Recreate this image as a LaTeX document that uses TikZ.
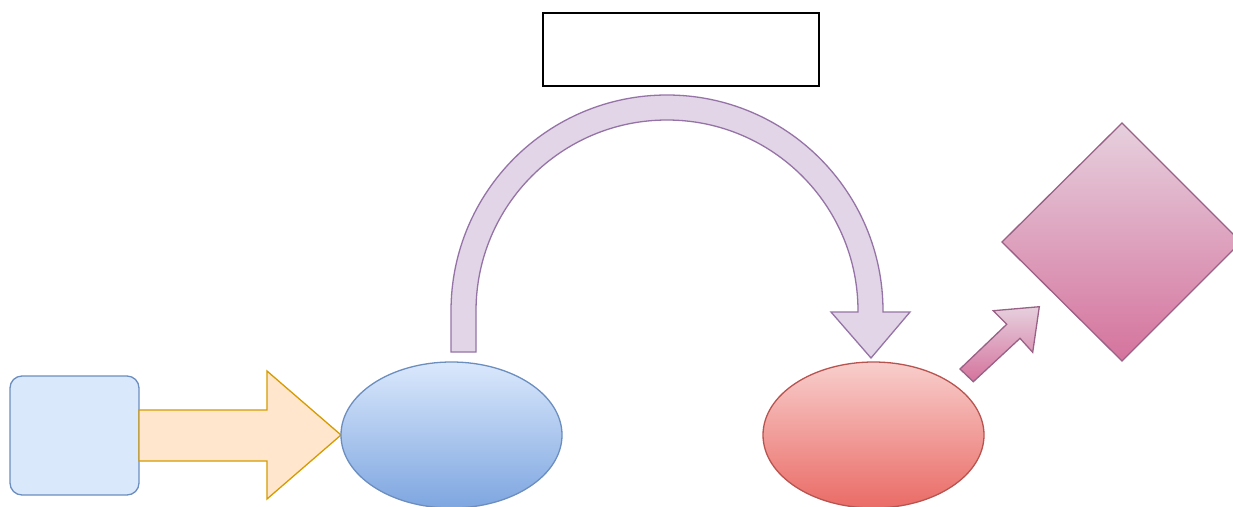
\documentclass[tikz,border=0pt]{standalone}
\usetikzlibrary{shapes.geometric}
\definecolor{bluefill}{HTML}{DAE8FC}
\definecolor{bluedark}{HTML}{7EA6E0}
\definecolor{bluestroke}{HTML}{6C8EBF}
\definecolor{orangefill}{HTML}{FFE6CC}
\definecolor{orangestroke}{HTML}{D79B00}
\definecolor{redtop}{HTML}{F8CECC}
\definecolor{redbot}{HTML}{EA6B66}
\definecolor{redstroke}{HTML}{B85450}
\definecolor{purplefill}{HTML}{E1D5E7}
\definecolor{purplestroke}{HTML}{9673A6}
\definecolor{pinktop}{HTML}{E6D0DE}
\definecolor{pinkbot}{HTML}{D5739D}
\definecolor{pinkstroke}{HTML}{996185}
\begin{document}
\begin{tikzpicture}[x=1pt,y=-1pt,
  every node/.style={inner sep=0pt,outer sep=0pt},
  shapeline/.style={line width=1.3pt,line join=miter},
  bluebox/.style={shapeline,draw=bluestroke,fill=bluefill,rounded corners=12pt},
  blockarrow/.style={shapeline,draw=orangestroke,fill=orangefill},
  blueell/.style={shapeline,ellipse,draw=bluestroke,top color=bluefill,bottom color=bluedark},
  redell/.style={shapeline,ellipse,draw=redstroke,top color=redtop,bottom color=redbot},
  uarrow/.style={shapeline,draw=purplestroke,fill=purplefill},
  pinkshape/.style={shapeline,draw=pinkstroke,top color=pinktop,bottom color=pinkbot},
  plainbox/.style={shapeline,draw=black,fill=white}]
\useasboundingbox (0,0) rectangle (1233,506);
\fill[white] (0,0) rectangle (1233,506);
\clip (0,0) rectangle (1233,506);

% top empty box
\node[plainbox,minimum width=276pt,minimum height=73pt] (topbox) at (681,49.5) {};

% left rounded square
\node[bluebox,minimum width=129pt,minimum height=119pt] (sq) at (74.5,435.5) {};

% block arrow
\path[blockarrow] (sq.east |- 0,410) -- (267,410) -- (267,371) -- (341,435)
  -- (267,499) -- (267,461) -- (sq.east |- 0,461) -- cycle;

% ellipses
\node[blueell,minimum width=221pt,minimum height=146pt] (e1) at (451.5,435) {};
\node[redell,minimum width=221pt,minimum height=146pt] (e2) at (873.5,435) {};

% U-turn arrow
\path[uarrow] (451,352) -- (451,311) arc[start angle=180,end angle=360,radius=216]
  -- (883,312) -- (910,312) -- (871,358) -- (831,312) -- (858,312) -- (858,311)
  arc[start angle=360,end angle=180,radius=191] -- (476,352) -- cycle;

% diamond
\path[pinkshape] (1122,123) -- (1241,242) -- (1122,361) -- (1002,242) -- cycle;

% small diagonal arrow
\path[pinkshape] (960,369) -- (1006.7,324.3) -- (993.3,310.7) -- (1039.3,306.7)
  -- (1032.7,352.3) -- (1020,338.3) -- (973.3,381.7) -- cycle;
\end{tikzpicture}
\end{document}
